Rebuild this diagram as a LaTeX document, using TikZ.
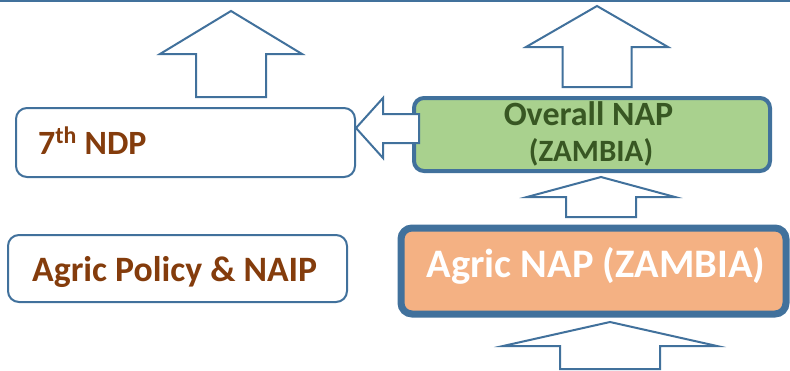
\documentclass[tikz,border=0pt]{standalone}
\usepackage{fontspec}
\setmainfont{Carlito}
\definecolor{bord}{HTML}{41719C}
\definecolor{brown}{HTML}{843C0C}
\definecolor{dgreen}{HTML}{385723}
\definecolor{lgreen}{HTML}{A9D18E}
\definecolor{peach}{HTML}{F4B183}
\newcommand{\blockup}[6]{% tipx, tipy, head base y, head half, shaft half, bottom y
  \draw[blockarrow] (#1,#2) -- (#1+#4,#3) -- (#1+#5,#3) -- (#1+#5,#6) -- (#1-#5,#6) -- (#1-#5,#3) -- (#1-#4,#3) -- cycle;}
\newcommand{\fsz}[1]{\fontsize{#1}{#1}\selectfont}
\begin{document}
\begin{tikzpicture}[x=1pt,y=-1pt,
  blockarrow/.style={draw=bord,fill=white,line width=2pt,line join=miter},
  whitebox/.style={draw=bord,fill=white,line width=2pt,rounded corners=11pt},
  label/.style={inner sep=0pt,font=\bfseries}]
\useasboundingbox (0,0) rectangle (790,370);
\fill[white] (0,0) rectangle (790,370);
\draw[bord,line width=2pt] (0,1) -- (790,1);
% boxes
\draw[whitebox] (16,108) rectangle (355,177);
\draw[whitebox] (8,235) rectangle (347,302);
\draw[draw=bord,fill=lgreen,line width=4pt,rounded corners=10pt] (414,98) rectangle (770,171);
\draw[draw=bord,fill=peach,line width=7pt,rounded corners=11pt] (401,228) rectangle (786,314);
% up arrows
\blockup{231}{11}{54}{71}{35}{97}
\blockup{597}{6}{47}{71}{34.5}{87}
\blockup{601}{177}{197}{74}{35}{217}
\blockup{610}{322}{346}{107}{50}{369}
% left arrow
\draw[blockarrow] (356,128) -- (383,98) -- (383,114) -- (419,114) -- (419,143) -- (383,143) -- (383,158) -- cycle;
% texts
\node[label,anchor=base west,text=brown] (t1) at (38,154) {\fsz{34}7\raisebox{1pt}{\textsuperscript{th}} NDP};
\node[label,anchor=base west,text=brown] (t2) at (32,281) {\fsz{35.7}Agric Policy \& NAIP};
\node[label,anchor=base,text=dgreen] (t3) at (588.5,125) {\fsz{34}Overall NAP};
\node[label,anchor=base,text=dgreen] (t4) at (591,161) {\fsz{31}(ZAMBIA)};
\node[label,anchor=base,text=white] (t5) at (596,277) {\fsz{40.5}Agric NAP (ZAMBIA)};
\end{tikzpicture}
\end{document}
